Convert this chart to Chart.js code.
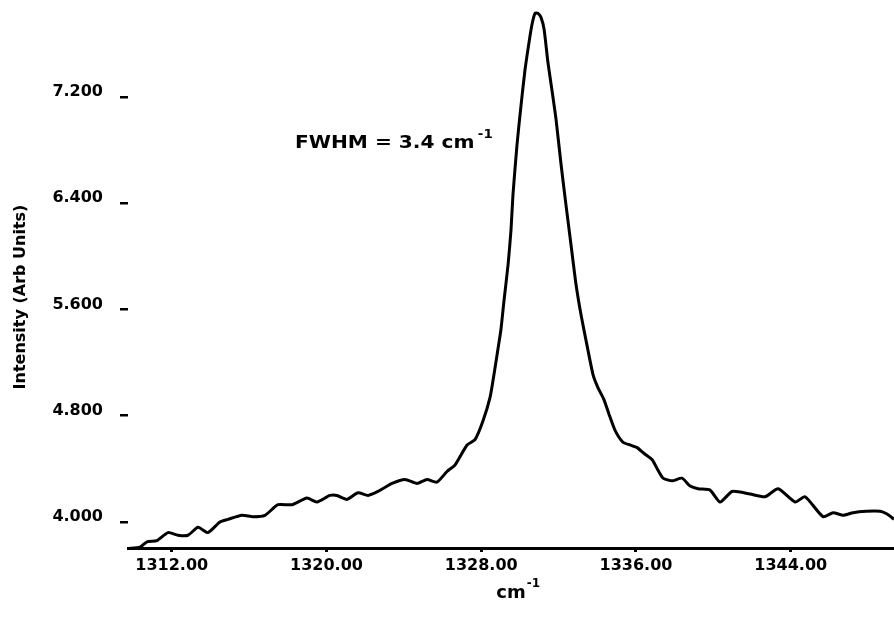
<!DOCTYPE html>
<html>
<head>
<meta charset="utf-8">
<script src="https://cdn.jsdelivr.net/npm/chart.js@4.4.1/dist/chart.umd.min.js"></script>
<style>
  html, body { margin: 0; padding: 0; background: #fff; }
</style>
</head>
<body>
<canvas id="spectrum" width="894" height="617"></canvas>
<script>
// Raman spectrum
const wavenumbers = [1309.74, 1310.36, 1310.72, 1311.24, 1311.81, 1312.32, 1312.84, 1313.36, 1313.87, 1314.49,
    1314.91, 1315.63, 1316.20, 1316.82, 1317.49, 1318.22, 1318.99, 1319.51, 1320.18, 1320.54,
    1321.06, 1321.63, 1322.15, 1322.66, 1323.39, 1324.06, 1324.68, 1325.20, 1325.71, 1326.23,
    1326.65, 1327.27, 1327.68, 1328.09, 1328.46, 1328.66, 1328.82, 1329.02, 1329.18, 1329.39,
    1329.54, 1329.64, 1329.85, 1330.06, 1330.26, 1330.47, 1330.63, 1330.78, 1330.94, 1331.09,
    1331.25, 1331.45, 1331.66, 1331.87, 1332.13, 1332.38, 1332.64, 1332.90, 1333.16, 1333.47,
    1333.78, 1334.04, 1334.35, 1334.61, 1334.92, 1335.33, 1335.69, 1336.06, 1336.47, 1336.83,
    1337.14, 1337.40, 1337.87, 1338.38, 1338.80, 1339.21, 1339.83, 1340.35, 1340.97, 1341.90,
    1342.67, 1343.35, 1344.23, 1344.74, 1345.67, 1346.19, 1346.71, 1347.22, 1347.90, 1348.62,
    1348.98, 1349.34];
const intensity = [3.80, 3.81, 3.85, 3.86, 3.92, 3.90, 3.90, 3.96, 3.92, 4.00,
    4.02, 4.05, 4.04, 4.05, 4.13, 4.13, 4.18, 4.15, 4.20, 4.20,
    4.17, 4.22, 4.20, 4.23, 4.29, 4.32, 4.29, 4.32, 4.30, 4.38,
    4.43, 4.58, 4.62, 4.76, 4.94, 5.11, 5.26, 5.45, 5.67, 5.94,
    6.20, 6.46, 6.84, 7.14, 7.40, 7.61, 7.75, 7.83, 7.83, 7.80,
    7.71, 7.46, 7.25, 7.03, 6.69, 6.39, 6.09, 5.79, 5.56, 5.33,
    5.11, 5.01, 4.92, 4.81, 4.69, 4.60, 4.58, 4.56, 4.51, 4.47,
    4.39, 4.33, 4.31, 4.33, 4.27, 4.25, 4.24, 4.15, 4.23, 4.21,
    4.19, 4.25, 4.15, 4.19, 4.04, 4.07, 4.05, 4.07, 4.08, 4.08,
    4.06, 4.02];

const xTicks = [1312, 1320, 1328, 1336, 1344];
const yTicks = [4.0, 4.8, 5.6, 6.4, 7.2];
const xRange = [1309.74, 1349.34];
const yRange = [3.804, 7.931];

const annotationText = 'FWHM = 3.4 cm';
const annotationAt = [1318.37, 6.816];

const FONT = '"DejaVu Sans", "Liberation Sans", sans-serif';

// Texts that need superscripts or exact placement
const textPlugin = {
    id: 'spectrumText',
    afterDraw(chart) {
        const ctx = chart.ctx;
        const xs = chart.scales.x;
        const ys = chart.scales.y;
        ctx.save();
        ctx.fillStyle = '#000';
        ctx.textBaseline = 'alphabetic';

        // FWHM note (the plotter font is a bit wider than DejaVu)
        const ax = xs.getPixelForValue(annotationAt[0]);
        const ay = ys.getPixelForValue(annotationAt[1]);
        ctx.save();
        ctx.translate(ax, ay);
        ctx.scale(1.12, 1);
        ctx.font = 'bold 18px ' + FONT;
        ctx.fillText(annotationText, 0, 0);
        const w = ctx.measureText(annotationText).width;
        ctx.font = 'bold 12px ' + FONT;
        ctx.fillText('-1', w + 3, -10);
        ctx.restore();

        // x axis title: cm-1
        const midX = (chart.chartArea.left + chart.chartArea.right) / 2;
        ctx.font = 'bold 18px ' + FONT;
        const cw = ctx.measureText('cm').width;
        const tx = midX - cw / 2;
        ctx.fillText('cm', tx, 598);
        ctx.font = 'bold 12px ' + FONT;
        ctx.fillText('-1', tx + cw + 1, 587);

        // y axis title
        ctx.translate(21, 297);
        ctx.rotate(-Math.PI / 2);
        ctx.font = 'bold 16px ' + FONT;
        ctx.textAlign = 'center';
        ctx.textBaseline = 'middle';
        ctx.fillText('Intensity (Arb Units)', 0, 0);
        ctx.restore();
    }
};

const ctx = document.getElementById('spectrum').getContext('2d');
const spectrumChart = new Chart(ctx, {
    type: 'line',
    data: {
        datasets: [{
            data: wavenumbers.map((v, i) => ({ x: v, y: intensity[i] })),
            borderColor: '#000',
            borderWidth: 3,
            pointRadius: 0,
            fill: false,
            tension: 0.2
        }]
    },
    options: {
        responsive: false,
        animation: false,
        layout: { padding: 0 },
        plugins: {
            legend: { display: false },
            tooltip: { enabled: false }
        },
        scales: {
            x: {
                type: 'linear',
                min: xRange[0],
                max: xRange[1],
                afterBuildTicks: (scale) => {
                    scale.ticks = xTicks.map(v => ({ value: v }));
                },
                afterFit: (scale) => {
                    scale.height = 69;
                    scale.paddingLeft = 0;
                    scale.paddingRight = 0;
                },
                border: { display: true, color: '#000', width: 3 },
                grid: { drawOnChartArea: false, drawTicks: true, tickLength: 4, color: '#000', lineWidth: 3 },
                ticks: {
                    color: '#000',
                    padding: 4,
                    maxRotation: 0,
                    font: { family: FONT, size: 16, weight: 'bold' },
                    callback: (v) => v.toFixed(2)
                }
            },
            y: {
                min: yRange[0],
                max: yRange[1],
                afterBuildTicks: (scale) => {
                    scale.ticks = yTicks.map(v => ({ value: v }));
                },
                afterFit: (scale) => {
                    scale.width = 128;
                    scale.paddingTop = 0;
                    scale.paddingBottom = 0;
                },
                border: { display: false },
                grid: { drawOnChartArea: false, drawTicks: true, tickLength: 8, color: '#000', lineWidth: 2.5 },
                ticks: {
                    color: '#000',
                    padding: 17,
                    labelOffset: -5,
                    font: { family: FONT, size: 16, weight: 'bold' },
                    callback: (v) => v.toFixed(3)
                }
            }
        }
    },
    plugins: [textPlugin]
});
</script>
</body>
</html>
